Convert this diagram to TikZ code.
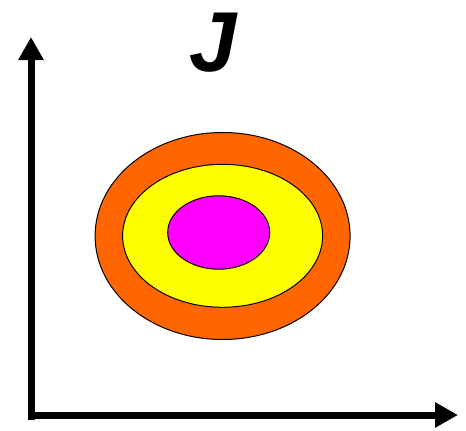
\documentclass[tikz,border=0pt]{standalone}
\usepackage{fontspec}
\setmainfont{Liberation Sans}
\usetikzlibrary{arrows.meta}
\begin{document}
\begin{tikzpicture}[x=1pt,y=-1pt,
  axis/.style={line width=7pt,-{Triangle[length=23pt,width=24pt]}},
  ring/.style={draw=black,line width=1pt}]
\useasboundingbox (0,0) rectangle (466,431);
\fill[white] (0,0) rectangle (466,431);
\coordinate (o) at (31,420);
\coordinate (ytop) at (31,37);
\coordinate (ho) at (28,415);
\coordinate (xend) at (458,415);
\draw[axis] (o) -- (ytop);
\draw[axis] (ho) -- (xend);
\draw[ring,fill={rgb,255:red,255;green,102;blue,0}] (222.6,236) ellipse [x radius=127.5, y radius=103.5];
\draw[ring,fill={rgb,255:red,255;green,255;blue,0}] (222.6,235.8) ellipse [x radius=100, y radius=71.5];
\draw[ring,fill={rgb,255:red,255;green,0;blue,255}] (218.7,232.5) ellipse [x radius=51, y radius=36.7];
\node[inner sep=0pt,font=\fontsize{85}{85}\selectfont\bfseries\itshape] (J) at (213,42.5) {J};
\end{tikzpicture}
\end{document}
